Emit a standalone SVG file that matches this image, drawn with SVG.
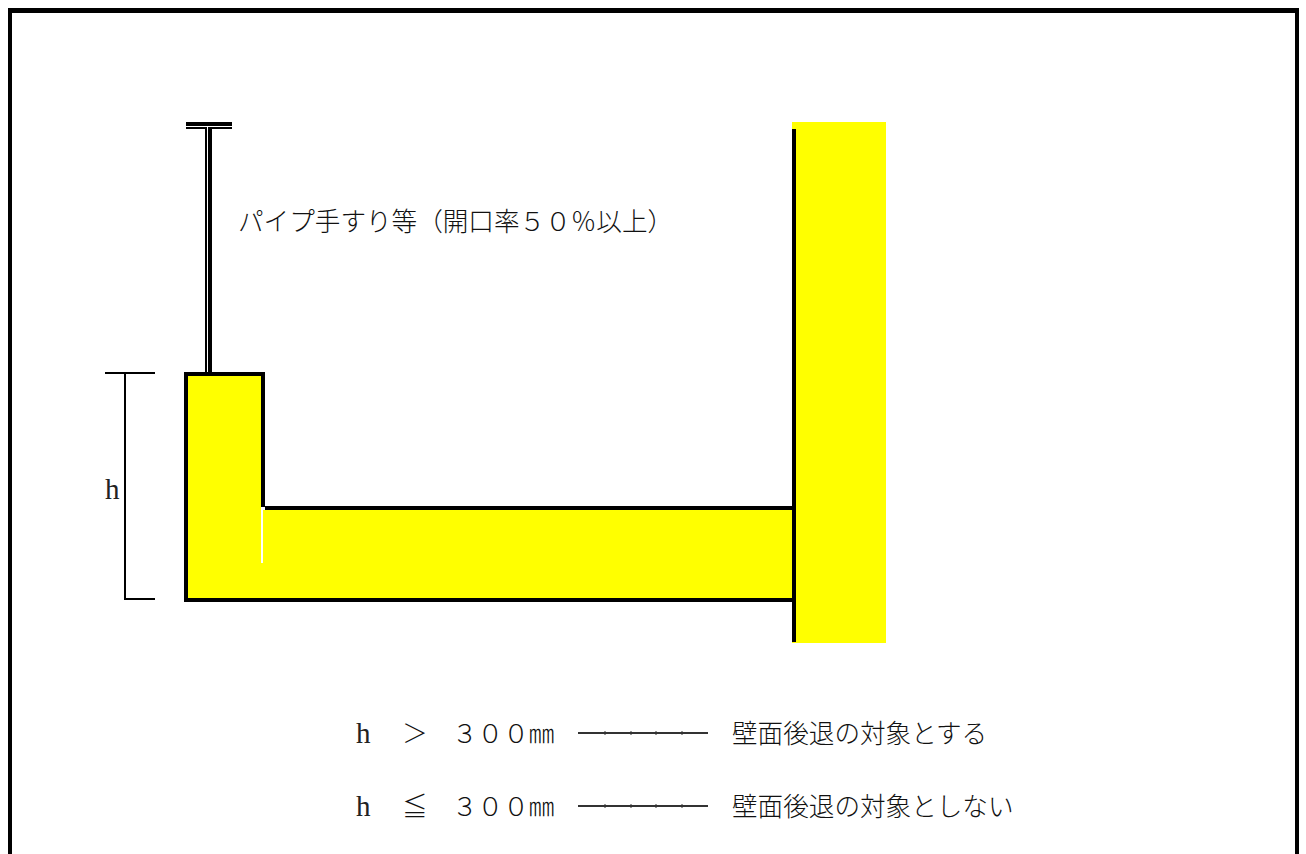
<svg xmlns="http://www.w3.org/2000/svg" width="1306" height="854" viewBox="0 0 1306 854">
<style>
text{font-family:"Noto Sans CJK JP","Liberation Serif",serif;font-size:25.6px;font-weight:300;fill:#111}
text.h{font-family:"Liberation Serif","Noto Sans CJK JP",serif;font-size:29px;font-weight:400;fill:#222}
.k{fill:#000}
.y{fill:#ff0}
.w{fill:#fff}
.l{fill:#333}
</style>
<rect width="1306" height="854" class="w"/>
<g id="frame"><rect class="k" x="8" y="8" width="1291" height="5"/><rect class="k" x="8" y="8" width="4" height="846"/><rect class="k" x="1295" y="8" width="4" height="846"/></g>
<g id="parapet"><path class="y" d="M186 374H263V508H794V600H186Z"/><path d="M794 600H186V374H263V507M265 508H794" fill="none" stroke="#000" stroke-width="4"/><rect class="w" x="261" y="507" width="4" height="3"/><rect class="w" x="261" y="507" width="2" height="56"/></g>
<g id="wall"><rect class="y" x="792" y="122" width="94" height="521"/><rect class="k" x="792" y="129" width="4" height="513"/></g>
<g id="rail"><rect class="k" x="186" y="122" width="46" height="4"/><rect class="k" x="186" y="127" width="46" height="2"/><rect class="k" x="205" y="127" width="2" height="245"/><rect class="k" x="208" y="127" width="4" height="245"/><rect class="w" x="207" y="127" width="1" height="245"/></g>
<g id="dimension"><path d="M105 373H155M125 373V599H155" fill="none" stroke="#000" stroke-width="2"/><text class="h" x="105" y="499">h</text></g>
<g id="labels">
<text x="238" y="231">パイプ手すり等（開口率５０％以上）</text>
<text class="h" x="356" y="743">h</text><text x="402" y="743">＞</text><text x="452" y="743">３００㎜</text>
<text x="732" y="743">壁面後退の対象とする</text>
<text class="h" x="356" y="816">h</text><text x="402" y="816">≦</text><text x="452" y="816">３００㎜</text>
<text x="732" y="816">壁面後退の対象としない</text>
</g>
<g id="connectors"><path id="dash1" class="l" d="M578 732h130v2H578zM604 731.5h2v3h-2zM630 731.5h2v3h-2zM655 731.5h2v3h-2zM681 731.5h2v3h-2z"/><path id="dash2" class="l" d="M578 805h130v2H578zM604 804.5h2v3h-2zM630 804.5h2v3h-2zM655 804.5h2v3h-2zM681 804.5h2v3h-2z"/></g>
</svg>
